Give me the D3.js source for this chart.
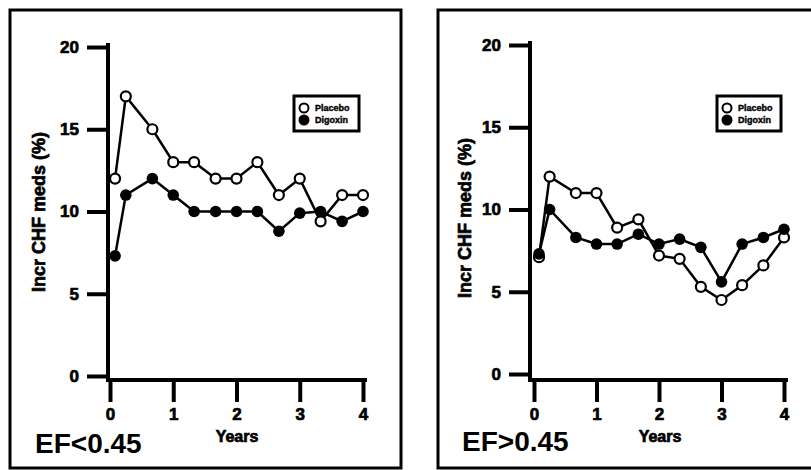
<!DOCTYPE html>
<html><head><meta charset="utf-8">
<script src="https://cdn.jsdelivr.net/npm/d3@7"></script>
<style>
body{margin:0;background:#fff}
svg{display:block}
text{font-family:"Liberation Sans",Arial,sans-serif;font-weight:bold;fill:#000}
.heavy{stroke:#000;stroke-width:0.7px}
</style>
</head><body><svg id="c" width="811" height="470"></svg>
<script>
// ---- data ----
const years = [0.08,0.25,0.67,1,1.33,1.67,2,2.33,2.67,3,3.33,3.67,4];
const yTicks = [0,5,10,15,20];
const xTicks = [0,1,2,3,4];
const seriesNames = ["Placebo","Digoxin"];
const panelTitles = ["EF<0.45","EF>0.45"];
const yLabel = "Incr CHF meds (%)";
const xLabel = "Years";
const placeboLow  = [12,17,15,13,13,12,12,13,11,12,9.4,11,11];
const digoxinLow  = [7.3,11,12,11,10,10,10,10,8.8,9.9,10,9.4,10];
const placeboHigh = [7.1,12,11,11,8.9,9.4,7.2,7.0,5.3,4.5,5.4,6.6,8.3];
const digoxinHigh = [7.3,10,8.3,7.9,7.9,8.5,7.9,8.2,7.7,5.6,7.9,8.3,8.8];

const svg = d3.select("#c");

const panels = [
  {title:panelTitles[0], placebo:placeboLow, digoxin:digoxinLow,
   frame:{x:10,y:10,w:391,h:458}, axisX:108, yRange:[376,47], xRange:[110,363], axisY:380,
   legend:{x:294,y:96,w:65,h:35}, yLab:[39,212], years:[237,442], titlePos:[35,453]},
  {title:panelTitles[1], placebo:placeboHigh, digoxin:digoxinHigh,
   frame:{x:438,y:10,w:400,h:458}, axisX:530, yRange:[374,45], xRange:[534,784], axisY:380,
   legend:{x:717,y:96,w:64,h:35}, yLab:[465,218], years:[660,442], titlePos:[462,451]}
];

panels.forEach(p => {
  const g = svg.append("g");
  g.append("rect").attr("x",p.frame.x).attr("y",p.frame.y).attr("width",p.frame.w).attr("height",p.frame.h)
    .attr("fill","none").attr("stroke","#000").attr("stroke-width",3);

  const y = d3.scaleLinear().domain([0,20]).range(p.yRange);
  const x = d3.scaleLinear().domain([0,4]).range(p.xRange);

  const ya = g.append("g").attr("transform",`translate(${p.axisX},0)`)
    .call(d3.axisLeft(y).tickValues(yTicks).tickFormat(d3.format("d")).tickSize(21).tickPadding(8).tickSizeOuter(0));
  ya.select(".domain").remove();
  ya.selectAll(".tick line").attr("stroke","#000").attr("stroke-width",4);
  ya.selectAll(".tick text").attr("font-family",null).attr("font-size",null)
    .style("font-size","17px").attr("class","heavy");
  g.append("line").attr("x1",p.axisX).attr("x2",p.axisX).attr("y1",y(20)-4).attr("y2",p.axisY+2)
    .attr("stroke","#000").attr("stroke-width",4);

  const xa = g.append("g").attr("transform",`translate(0,${p.axisY})`)
    .call(d3.axisBottom(x).tickValues(xTicks).tickFormat(d3.format("d")).tickSize(22).tickPadding(6).tickSizeOuter(0));
  xa.select(".domain").remove();
  xa.selectAll(".tick line").attr("stroke","#000").attr("stroke-width",4);
  xa.selectAll(".tick text").attr("font-family",null).attr("font-size",null)
    .style("font-size","17px").attr("class","heavy");
  g.append("line").attr("x1",p.axisX-2).attr("x2",x(4)+4).attr("y1",p.axisY).attr("y2",p.axisY)
    .attr("stroke","#000").attr("stroke-width",4);

  g.append("text").attr("class","heavy").attr("transform",`translate(${p.yLab[0]},${p.yLab[1]}) rotate(-90)`)
    .attr("text-anchor","middle").attr("dy","0.35em").style("font-size","18px").text(yLabel);
  g.append("text").attr("class","heavy").attr("x",p.years[0]).attr("y",p.years[1]).attr("text-anchor","middle")
    .style("font-size","16px").text(xLabel);
  g.append("text").attr("x",p.titlePos[0]).attr("y",p.titlePos[1])
    .style("font-size","28px").text(p.title);

  const line = d3.line().x((d,i)=>x(years[i])).y(d=>y(d));
  [p.placebo, p.digoxin].forEach(s => {
    g.append("path").attr("d",line(s)).attr("fill","none").attr("stroke","#000").attr("stroke-width",2.5);
  });
  g.selectAll(null).data(p.placebo).enter().append("circle")
    .attr("cx",(d,i)=>x(years[i])).attr("cy",d=>y(d)).attr("r",5)
    .attr("fill","#fff").attr("stroke","#000").attr("stroke-width",2.2);
  g.selectAll(null).data(p.digoxin).enter().append("circle")
    .attr("cx",(d,i)=>x(years[i])).attr("cy",d=>y(d)).attr("r",5.8)
    .attr("fill","#000");

  const L = p.legend;
  g.append("rect").attr("x",L.x).attr("y",L.y).attr("width",L.w).attr("height",L.h)
    .attr("fill","#fff").attr("stroke","#000").attr("stroke-width",3);
  seriesNames.forEach((nm,i) => {
    const cy = L.y + 12 + i*12;
    g.append("circle").attr("cx",L.x+10).attr("cy",cy).attr("r",4.5)
      .attr("fill", i===0 ? "#fff" : "#000").attr("stroke","#000").attr("stroke-width",2);
    g.append("text").attr("class","heavy").attr("x",L.x+21).attr("y",cy).attr("dy","0.35em")
      .style("font-size","9px").style("stroke-width","0.4px").text(nm);
  });
});
</script>
</body></html>
